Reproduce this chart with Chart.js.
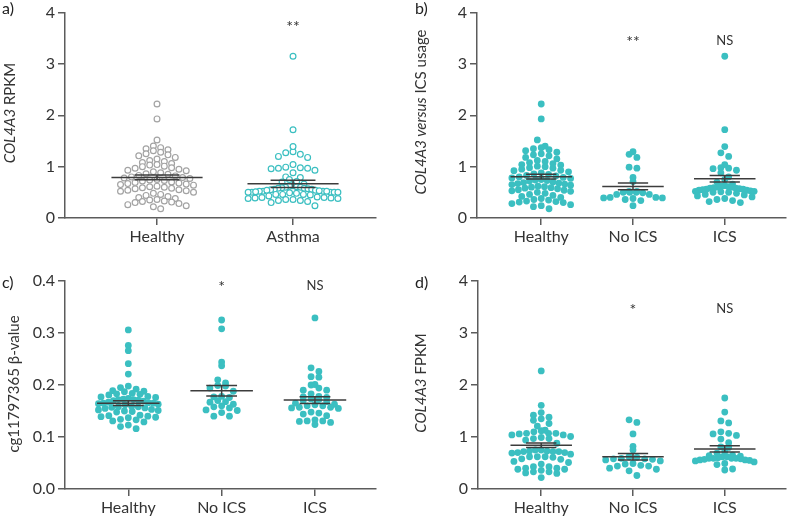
<!DOCTYPE html>
<html><head><meta charset="utf-8">
<script src="https://cdn.jsdelivr.net/npm/chart.js@4"></script>
<style>
html,body{margin:0;padding:0;background:#fff;}
#wrap{position:relative;width:789px;height:517px;overflow:hidden;}
canvas{position:absolute;}
</style></head><body>
<div id="wrap">
<canvas id="ca" style="left:0;top:0" width="394" height="258"></canvas>
<canvas id="cb" style="left:394px;top:0" width="395" height="258"></canvas>
<canvas id="cc" style="left:0;top:258px" width="394" height="259"></canvas>
<canvas id="cd" style="left:394px;top:258px" width="395" height="259"></canvas>
</div>
<script>
// ---------- DATA ----------
const catsA = ['Healthy', 'Asthma'];
const catsICS = ['Healthy', 'No ICS', 'ICS'];

const healthyRPKM = [2.22, 1.93, 1.52, 1.40, 1.37, 1.35, 1.33, 1.31, 1.28, 1.25, 1.23, 1.21,
  1.18, 1.15, 1.12, 1.10, 1.08, 1.06, 1.04, 1.03, 1.01, 1.00, 0.98, 0.97, 0.95, 0.93, 0.92,
  0.90, 0.88, 0.86, 0.85, 0.83, 0.82, 0.80, 0.79, 0.78, 0.77, 0.75, 0.74, 0.73, 0.72, 0.70,
  0.69, 0.68, 0.67, 0.66, 0.65, 0.64, 0.62, 0.61, 0.60, 0.59, 0.58, 0.57, 0.55, 0.54, 0.53,
  0.52, 0.50, 0.48, 0.46, 0.44, 0.42, 0.40, 0.38, 0.36, 0.35, 0.33, 0.32, 0.31, 0.30, 0.28,
  0.26, 0.24, 0.22, 0.18];
const noIcsRPKM = [1.24, 1.29, 1.18, 0.99, 0.97, 0.79, 0.71, 0.50, 0.46, 0.50, 0.49, 0.46,
  0.50, 0.52, 0.52, 0.39, 0.38, 0.36, 0.39, 0.34, 0.40, 0.40, 0.24];
const icsRPKM = [3.15, 1.72, 1.39, 1.27, 1.20, 1.04, 0.98, 0.97, 0.96, 0.93, 0.88, 0.80, 0.75,
  0.70, 0.66, 0.63, 0.62, 0.61, 0.60, 0.60, 0.59, 0.58, 0.58, 0.57, 0.56, 0.56, 0.55, 0.54,
  0.54, 0.53, 0.52, 0.52, 0.51, 0.50, 0.50, 0.48, 0.46, 0.45, 0.43, 0.41, 0.38, 0.36, 0.34,
  0.32, 0.30];
const asthmaRPKM = noIcsRPKM.concat(icsRPKM);

const healthyBeta = [0.306, 0.276, 0.266, 0.241, 0.221, 0.192, 0.188, 0.189, 0.198, 0.195,
  0.187, 0.184, 0.183, 0.182, 0.181, 0.178, 0.177, 0.176, 0.174, 0.170, 0.171, 0.169, 0.172,
  0.173, 0.172, 0.166, 0.165, 0.163, 0.164, 0.167, 0.165, 0.162, 0.158, 0.157, 0.156, 0.159,
  0.155, 0.158, 0.153, 0.151, 0.149, 0.152, 0.148, 0.150, 0.139, 0.142, 0.140, 0.137, 0.138,
  0.141, 0.129, 0.131, 0.133, 0.134, 0.120, 0.116, 0.123];
const noIcsBeta = [0.325, 0.308, 0.237, 0.244, 0.210, 0.204, 0.199, 0.198, 0.188, 0.194,
  0.176, 0.177, 0.178, 0.168, 0.163, 0.170, 0.156, 0.158, 0.160, 0.152, 0.167, 0.151, 0.147,
  0.140, 0.140];
const icsBeta = [0.329, 0.233, 0.226, 0.216, 0.215, 0.201, 0.200, 0.190, 0.190, 0.194, 0.183,
  0.176, 0.178, 0.177, 0.173, 0.172, 0.170, 0.168, 0.165, 0.163, 0.162, 0.160, 0.160, 0.157,
  0.157, 0.156, 0.155, 0.148, 0.146, 0.144, 0.141, 0.133, 0.131, 0.131, 0.130, 0.128, 0.124];

const healthyFPKM = [2.27, 1.61, 1.47, 1.35, 1.38, 1.42, 1.32, 1.26, 1.21, 1.10, 1.07, 1.06,
  1.04, 1.04, 1.07, 1.13, 1.12, 1.07, 0.97, 0.99, 0.97, 1.01, 0.88, 0.94, 0.75, 0.70, 0.70,
  0.72, 0.75, 0.72, 0.67, 0.69, 0.72, 0.73, 0.73, 0.62, 0.58, 0.62, 0.61, 0.62, 0.51, 0.57,
  0.48, 0.53, 0.33, 0.38, 0.40, 0.36, 0.31, 0.43, 0.38, 0.40, 0.43, 0.22, 0.30, 0.33];
const noIcsFPKM = [1.33, 1.28, 1.06, 0.82, 0.75, 0.62, 0.56, 0.54, 0.59, 0.58, 0.61, 0.57,
  0.58, 0.40, 0.455, 0.48, 0.49, 0.44, 0.44, 0.38, 0.35, 0.26];
const icsFPKM = [1.75, 1.48, 1.31, 1.27, 1.10, 1.07, 1.03, 1.06, 0.96, 0.89, 0.81, 0.80, 0.72,
  0.69, 0.65, 0.64, 0.63, 0.62, 0.62, 0.60, 0.59, 0.59, 0.59, 0.59, 0.58, 0.57, 0.56, 0.56,
  0.55, 0.54, 0.52, 0.49, 0.47, 0.385, 0.365];

const meanA = [0.79, 0.665],         semA = [0.045, 0.072];
const meanB = [0.805, 0.615, 0.765], semB = [0.045, 0.065, 0.065];
const meanC = [0.165, 0.189, 0.171], semC = [0.0045, 0.010, 0.0065];
const meanD = [0.84, 0.62, 0.77],    semD = [0.043, 0.064, 0.06];

const sigA = ['', '**'];
const sigB = ['', '**', 'NS'];
const sigC = ['', '*', 'NS'];
const sigD = ['', '*', 'NS'];

const ticksRPKM = [0, 1, 2, 3, 4];
const ticksBeta = [0, 0.1, 0.2, 0.3, 0.4];

const titleA = [{t: 'COL4A3', i: true}, {t: ' RPKM'}];
const titleB = [{t: 'COL4A3 versus', i: true}, {t: ' ICS usage'}];
const titleC = [{t: 'cg11797365 β-value'}];
const titleD = [{t: 'COL4A3', i: true}, {t: ' FPKM'}];

// ---------- STYLE ----------
const FONT = 'Lato, "Open Sans", sans-serif';
const TEAL = '#3bbfc1';
const GREY = '#a3a3a3';
const AX = '#5c5c5c';
const TXT = '#333333';

// Row-binned scatter layout (pixel offsets), Prism-like
function rowLayout(py, h, s, maxW) {
  const bins = {};
  py.forEach((y, i) => { const b = Math.round(y / h); (bins[b] = bins[b] || []).push(i); });
  const off = new Array(py.length);
  Object.values(bins).forEach(list => {
    list.sort((a, b) => py[a] - py[b]);
    const n = list.length;
    const sp = n > 1 ? Math.min(s, maxW / (n - 1)) : 0;
    const pos = [];
    for (let k = 0; k < n; k++) pos.push((k - (n - 1) / 2) * sp);
    pos.sort((a, b) => Math.abs(a) - Math.abs(b) || a - b);
    list.forEach((idx, k) => { off[idx] = pos[k]; });
  });
  return off;
}

function decor(P) {
  return {
    id: 'decor',
    afterDatasetsDraw(chart) {
      const ctx = chart.ctx, xs = chart.scales.x, ys = chart.scales.y;
      const unit = xs.getPixelForValue(2) - xs.getPixelForValue(1);
      ctx.save();
      ctx.strokeStyle = '#3c3c3c'; ctx.lineWidth = 1.5;
      P.means.forEach((m, g) => {
        const cx = xs.getPixelForValue(g + 1);
        const hw = unit * 0.335, cw = unit * 0.165;
        const ym = ys.getPixelForValue(m), yt = ys.getPixelForValue(m + P.sems[g]), yb = ys.getPixelForValue(m - P.sems[g]);
        ctx.beginPath();
        ctx.moveTo(cx - hw, ym); ctx.lineTo(cx + hw, ym);
        ctx.moveTo(cx - cw, yt); ctx.lineTo(cx + cw, yt);
        ctx.moveTo(cx - cw, yb); ctx.lineTo(cx + cw, yb);
        ctx.moveTo(cx, yt); ctx.lineTo(cx, yb);
        ctx.stroke();
      });
      ctx.restore();
    },
    afterDraw(chart) {
      const ctx = chart.ctx, xs = chart.scales.x, ys = chart.scales.y;
      ctx.save();
      ctx.fillStyle = TXT; ctx.textAlign = 'center'; ctx.textBaseline = 'middle';
      P.sig.forEach((s, g) => {
        if (!s) return;
        const x = xs.getPixelForValue(g + 1), y = ys.getPixelForValue(P.sigY[g]);
        if (s.indexOf('*') >= 0) { ctx.font = '16px ' + FONT; ctx.fillText(s, x, y + 4); }
        else { ctx.font = '13px ' + FONT; ctx.fillText(s, x, y); }
      });
      ctx.font = '16px ' + FONT; ctx.textAlign = 'left'; ctx.textBaseline = 'top'; ctx.fillStyle = '#222';
      ctx.fillText(P.letter, P.letterPos[0], P.letterPos[1]);
      ctx.translate(P.titlePos[0], P.titlePos[1]); ctx.rotate(-Math.PI / 2);
      let total = 0;
      P.title.forEach(s => { ctx.font = (s.i ? 'italic ' : '') + '15px ' + FONT; s.w = ctx.measureText(s.t).width; total += s.w; });
      let x = -total / 2; ctx.textBaseline = 'middle'; ctx.fillStyle = TXT;
      P.title.forEach(s => { ctx.font = (s.i ? 'italic ' : '') + '15px ' + FONT; ctx.fillText(s.t, x, 0); x += s.w; });
      ctx.restore();
    }
  };
}

function makePanel(P) {
  const datasets = P.groups.map((vals, g) => ({
    data: vals.map(v => ({x: g + 1, y: v})),
    pointRadius: P.radius, pointHoverRadius: P.radius,
    pointBackgroundColor: P.fill[g], pointBorderColor: P.stroke[g], pointBorderWidth: P.bw
  }));
  const axisCommon = {
    grid: {drawOnChartArea: false, tickLength: 7, color: AX, lineWidth: 1.5},
    border: {color: AX, width: 1.5}
  };
  const chart = new Chart(document.getElementById(P.id), {
    type: 'scatter',
    data: {datasets},
    options: {
      responsive: false, animation: false, events: [],
      layout: {padding: P.pad},
      plugins: {legend: {display: false}, tooltip: {enabled: false}},
      scales: {
        x: Object.assign({
          type: 'linear', min: P.xmin, max: P.xmax,
          afterFit: s => { s.height = P.xh; },
          afterBuildTicks: s => { s.ticks = P.cats.map((c, i) => ({value: i + 1})); },
          ticks: {callback: (v, i) => P.cats[i], font: {family: FONT, size: 16}, color: TXT, padding: 2, maxRotation: 0, autoSkip: false}
        }, axisCommon),
        y: Object.assign({
          type: 'linear', min: 0, max: P.ymax,
          afterFit: s => { s.width = P.yw; },
          afterBuildTicks: s => { s.ticks = P.yticks.map(v => ({value: v})); },
          ticks: {callback: v => Number(v).toFixed(P.dec), font: {family: FONT, size: 16}, color: TXT, padding: 3}
        }, axisCommon)
      }
    },
    plugins: [decor(P)]
  });
  const xs = chart.scales.x, ys = chart.scales.y;
  const unit = xs.getPixelForValue(2) - xs.getPixelForValue(1);
  P.groups.forEach((vals, g) => {
    const py = vals.map(v => ys.getPixelForValue(v));
    const off = rowLayout(py, P.rowH, P.spacing, unit * P.maxW);
    const cx = xs.getPixelForValue(g + 1);
    chart.data.datasets[g].data = vals.map((v, i) => ({x: xs.getValueForPixel(cx + off[i]), y: v}));
  });
  chart.update('none');
}

makePanel({id: 'ca', cats: catsA, groups: [healthyRPKM, asthmaRPKM],
  fill: ['#ffffff', '#ffffff'], stroke: [GREY, TEAL], bw: 1.2, radius: 2.9,
  rowH: 7, spacing: 7.3, maxW: 0.66,
  means: meanA, sems: semA, sig: sigA, sigY: [0, 3.81],
  ymax: 4, yticks: ticksRPKM, dec: 0, xmin: 0.3235, xmax: 2.61,
  pad: {left: 0, right: 18, top: 10, bottom: 0}, yw: 65, xh: 40,
  title: titleA, titlePos: [10, 113], letter: 'a)', letterPos: [2, 1]});

makePanel({id: 'cb', cats: catsICS, groups: [healthyRPKM, noIcsRPKM, icsRPKM],
  fill: [TEAL, TEAL, TEAL], stroke: [TEAL, TEAL, TEAL], bw: 0, radius: 3.4,
  rowH: 6.5, spacing: 7.8, maxW: 0.64,
  means: meanB, sems: semB, sig: sigB, sigY: [0, 3.5, 3.46],
  ymax: 4, yticks: ticksRPKM, dec: 0, xmin: 0.30, xmax: 3.663,
  pad: {left: 0, right: 1, top: 10, bottom: 0}, yw: 83, xh: 40,
  title: titleB, titlePos: [27, 112], letter: 'b)', letterPos: [21, 1]});

makePanel({id: 'cc', cats: catsICS, groups: [healthyBeta, noIcsBeta, icsBeta],
  fill: [TEAL, TEAL, TEAL], stroke: [TEAL, TEAL, TEAL], bw: 0, radius: 3.4,
  rowH: 6.5, spacing: 7.8, maxW: 0.64,
  means: meanC, sems: semC, sig: sigC, sigY: [0, 0.396, 0.391],
  ymax: 0.4, yticks: ticksBeta, dec: 1, xmin: 0.3215, xmax: 3.654,
  pad: {left: 0, right: 18, top: 23, bottom: 0}, yw: 65, xh: 28,
  title: titleC, titlePos: [14, 126], letter: 'c)', letterPos: [2, 17]});

makePanel({id: 'cd', cats: catsICS, groups: [healthyFPKM, noIcsFPKM, icsFPKM],
  fill: [TEAL, TEAL, TEAL], stroke: [TEAL, TEAL, TEAL], bw: 0, radius: 3.4,
  rowH: 6.5, spacing: 7.8, maxW: 0.64,
  means: meanD, sems: semD, sig: sigD, sigY: [0, 3.52, 3.46],
  ymax: 4, yticks: ticksRPKM, dec: 0, xmin: 0.311, xmax: 3.663,
  pad: {left: 0, right: 1, top: 23, bottom: 0}, yw: 84, xh: 28,
  title: titleD, titlePos: [27, 125], letter: 'd)', letterPos: [21, 17]});
</script>
</body></html>
